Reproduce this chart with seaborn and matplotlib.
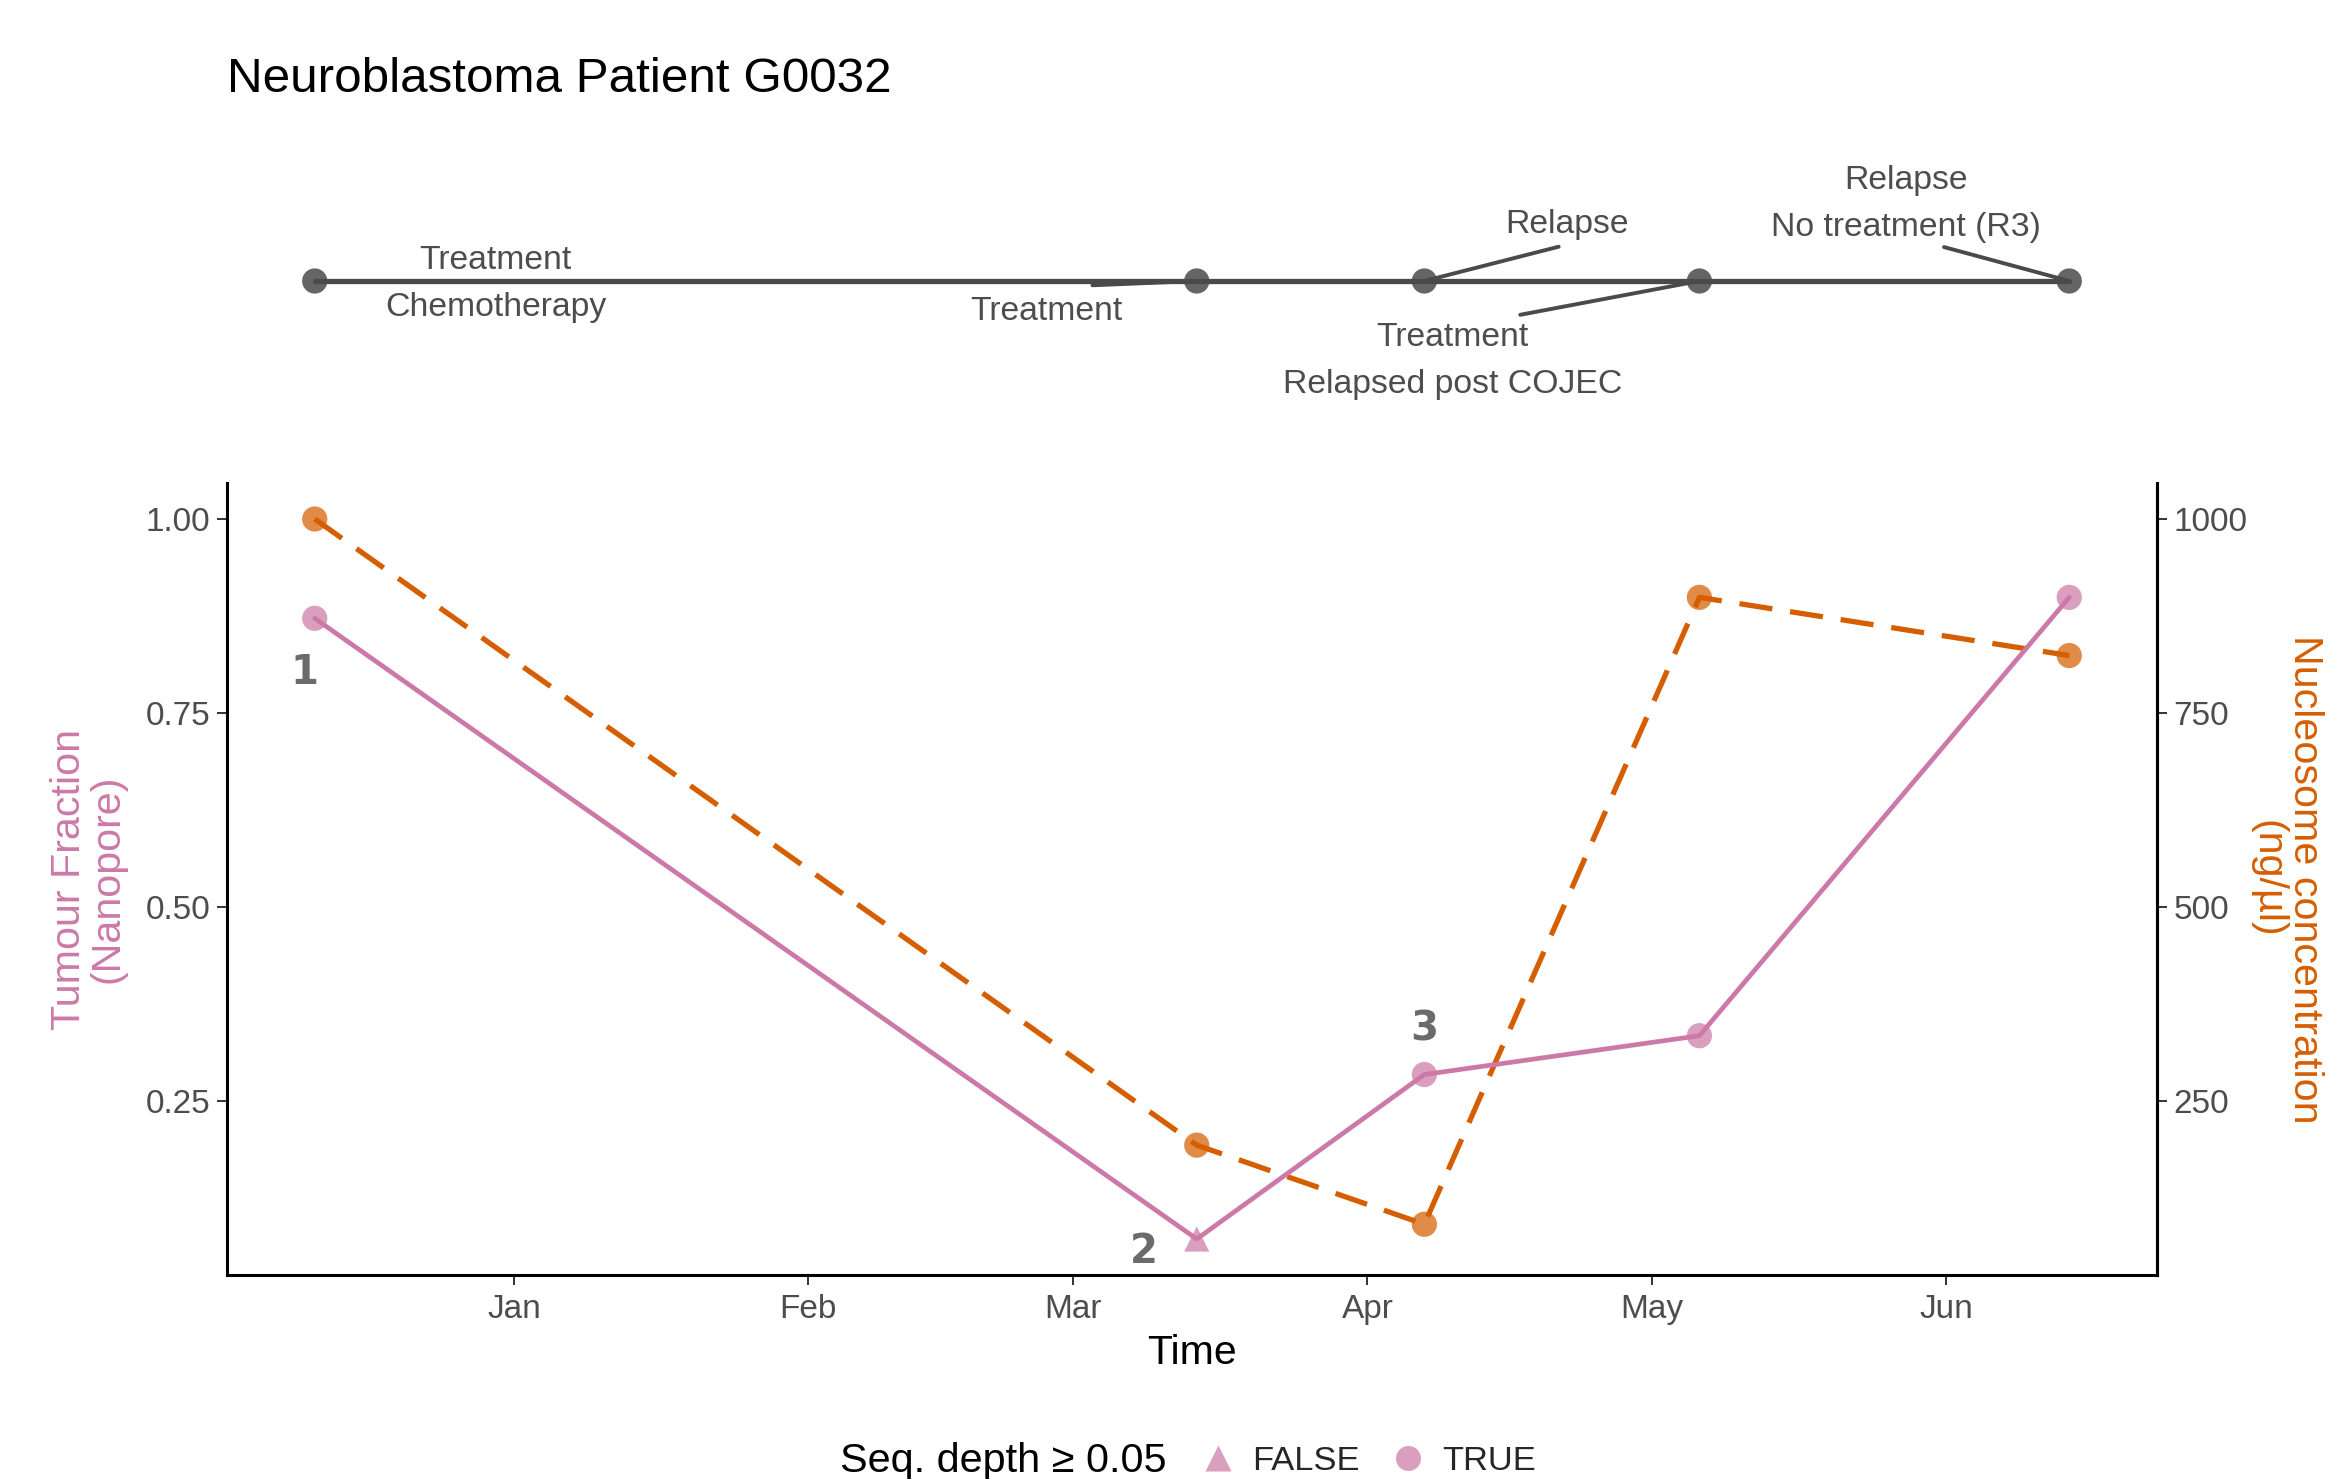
import numpy as np
import pandas as pd
import matplotlib
matplotlib.use("Agg")
import matplotlib.pyplot as plt
import matplotlib.dates as mdates
from matplotlib.lines import Line2D
import seaborn as sns

# ---------------- data ----------------
sample_dates = ["2022-12-11", "2023-03-14", "2023-04-07", "2023-05-06", "2023-06-14"]
tumour_fraction = [0.872, 0.072, 0.284, 0.334, 0.899]
nucleosome_conc = [1000, 193, 91, 899, 824]
seq_depth_ok = [True, False, True, True, True]
sample_numbers = ["1", "2", "3", "", ""]
event_types = ["Treatment", "Treatment", "Relapse", "Treatment", "Relapse"]
event_details = ["Chemotherapy", "", "", "Relapsed post COJEC", "No treatment (R3)"]
right_ticks = [250, 500, 750, 1000]
left_ticks = [0.25, 0.50, 0.75, 1.00]

PINK = "#CC79A7"
ORANGE = "#D55E00"
GREY_TXT = "#4d4d4d"

sns.set_theme(style="white")
plt.rcParams["font.family"] = ["Liberation Sans", "DejaVu Sans"]

df = pd.DataFrame({
    "date": pd.to_datetime(sample_dates),
    "tf": tumour_fraction,
    "nuc": nucleosome_conc,
    "nuc_scaled": np.array(nucleosome_conc) / 1000.0,
    "depth": pd.Categorical([str(v).upper() for v in seq_depth_ok], categories=["FALSE", "TRUE"]),
    "num": sample_numbers,
    "etype": event_types,
    "edetail": event_details,
    "zero": 0.0,
})

W, H = 2330, 1479
fig = plt.figure(figsize=(W / 100, H / 100), dpi=100)
fig.patch.set_facecolor("white")

L, R = 227 / W, 2157 / W
ax = fig.add_axes([L, 1 - 1275 / H, R - L, (1275 - 483) / H])
axt = fig.add_axes([L, 1 - 432 / H, R - L, 302 / H])

# x limits: data range with 5% expansion
xnum = mdates.date2num(df["date"])
span = xnum.max() - xnum.min()
xlim = (xnum.min() - 0.05 * span, xnum.max() + 0.05 * span)

# ---------------- main panel ----------------
sns.lineplot(data=df, x="date", y="nuc_scaled", ax=ax, color=ORANGE, lw=3.8,
             linestyle=(0, (6.3, 3.4)), zorder=2)
sns.scatterplot(data=df, x="date", y="nuc_scaled", ax=ax, color=ORANGE, s=330,
                alpha=0.72, edgecolor="none", zorder=3, legend=False)
sns.lineplot(data=df, x="date", y="tf", ax=ax, color=PINK, lw=3.4, zorder=2)
sns.scatterplot(data=df, x="date", y="tf", ax=ax, style="depth", color=PINK, s=330,
                markers={"FALSE": "^", "TRUE": "o"}, alpha=0.72, edgecolor="none",
                zorder=3, legend=False)

num_offsets = [(-10, -55), (-53, -13), (0, 45), (0, 0), (0, 0)]
for (d, y, n), off in zip(zip(df["date"], df["tf"], df["num"]), num_offsets):
    if n:
        ax.annotate(n, xy=(d, y), xytext=off, textcoords="offset pixels",
                    ha="center", va="center", fontsize=29, fontweight="bold",
                    color="#6b6b6b", family="DejaVu Sans")

allv = np.concatenate([df["tf"].values, df["nuc_scaled"].values])
yr = allv.max() - allv.min()
ylim = (allv.min() - 0.05 * yr, allv.max() + 0.05 * yr)
ax.set_xlim(xlim)
ax.set_ylim(ylim)
ax.set_yticks(left_ticks)
ax.set_yticklabels([f"{v:.2f}" for v in left_ticks])
ax.xaxis.set_major_locator(mdates.MonthLocator())
ax.xaxis.set_major_formatter(mdates.DateFormatter("%b"))

ax.spines["top"].set_visible(False)
for s in ["left", "bottom", "right"]:
    ax.spines[s].set_visible(True)
    ax.spines[s].set_color("black")
    ax.spines[s].set_linewidth(2.2)
ax.tick_params(axis="both", which="major", direction="out", length=7, width=1.4,
               color="#333333", labelsize=24, labelcolor=GREY_TXT, pad=5,
               left=True, bottom=True)
ax.tick_params(axis="x", pad=7)
ax.set_xlabel("Time", fontsize=29.5, color="black", labelpad=6)
ax.set_ylabel("Tumour Fraction\n(Nanopore)", fontsize=29.7, color=PINK, labelpad=14,
              linespacing=1.0)

sec = ax.secondary_yaxis("right", functions=(lambda y: y * 1000, lambda y: y / 1000))
sec.set_yticks(right_ticks)
sec.set_yticklabels([str(v) for v in right_ticks])
sec.tick_params(direction="out", length=7, width=1.4, color="#333333",
                labelsize=24, labelcolor=GREY_TXT, pad=5)
sec.spines["right"].set_linewidth(2.2)
sec.spines["right"].set_color("black")
sec.set_ylabel("Nucleosome concentration\n(ng/µl)", fontsize=29.7, color=ORANGE,
               rotation=-90, labelpad=55, linespacing=1.0)

# ---------------- timeline panel ----------------
sns.lineplot(data=df, x="date", y="zero", ax=axt, color="#4a4a4a", lw=3.8, zorder=2)
sns.scatterplot(data=df, x="date", y="zero", ax=axt, color="#4a4a4a", s=330,
                alpha=0.85, edgecolor="none", zorder=3, legend=False)
axt.set_xlim(xlim)
axt.set_ylim(-1, 1)
axt.axis("off")

label_offsets = [(181, -3), (-150, -30), (143, 56), (-247, -80), (-163, 77)]
seg_relpos = [None, (0.8, 1.33), (0.43, -0.2), (0.70, 1.09), (0.64, -0.05)]
for i, (d, t, det) in enumerate(zip(df["date"], df["etype"], df["edetail"])):
    txt = t if not det else f"{t}\n{det}"
    kw = {}
    if seg_relpos[i] is not None:
        kw["arrowprops"] = dict(arrowstyle="-", color="#4a4a4a", lw=2.8,
                                relpos=seg_relpos[i], shrinkA=0, shrinkB=0)
    axt.annotate(txt, xy=(d, 0), xytext=label_offsets[i], textcoords="offset pixels",
                 ha="center", va="center", fontsize=24.3, color=GREY_TXT,
                 linespacing=1.68, zorder=4, **kw)

# ---------------- title & legend ----------------
fig.text(L, 1 - 80 / H, "Neuroblastoma Patient G0032", fontsize=35.6, color="black",
         ha="left", va="center")

fig.text(840 / W, 1 - 1461 / H, "Seq. depth ≥ 0.05", fontsize=29.8, color="black",
         ha="left", va="center")
handles = [Line2D([], [], ls="none", marker="^", color=PINK, alpha=0.72, markersize=19,
                  markeredgecolor="none"),
           Line2D([], [], ls="none", marker="o", color=PINK, alpha=0.72, markersize=18,
                  markeredgecolor="none")]
fig.legend(handles, ["FALSE", "TRUE"], loc="center left",
           bbox_to_anchor=(1194 / W, 1 - 1461 / H), ncol=2, frameon=False,
           fontsize=24.8, handletextpad=0.3, columnspacing=0.7, handlelength=1.4,
           borderaxespad=0, borderpad=0)

fig.savefig("out.png", dpi=100, facecolor="white")
